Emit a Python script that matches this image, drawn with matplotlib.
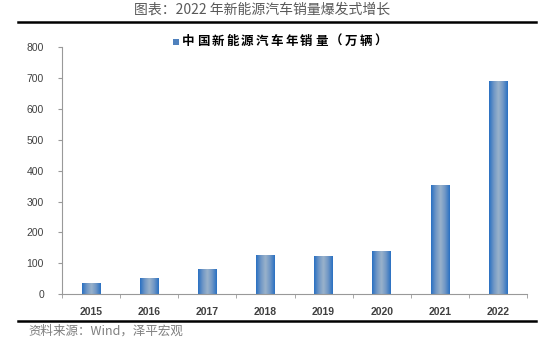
import numpy as np
import matplotlib
matplotlib.use("Agg")
from matplotlib import pyplot as plt
from matplotlib.colors import LinearSegmentedColormap
from matplotlib.patches import Rectangle
from matplotlib.lines import Line2D

plt.rcParams['font.family'] = ['Liberation Sans', 'Noto Sans CJK SC', 'DejaVu Sans']

years = ['2015', '2016', '2017', '2018', '2019', '2020', '2021', '2022']
sales = [33.1, 50.7, 77.7, 125.6, 120.6, 136.7, 352.1, 688.7]
yticks = [0, 100, 200, 300, 400, 500, 600, 700, 800]
leyenda = '中国新能源汽车年销量（万辆）'

# degradado azul de las barras (borde oscuro, centro claro)
cmap = LinearSegmentedColormap.from_list('barra', ['#2a70c2', '#6f97c6', '#9ab2cb', '#6f97c6', '#2a70c2'])

fig = plt.figure(figsize=(5.5, 3.39), dpi=100)
ax = fig.add_axes([62/550, 1-294.3/339, 465/550, 247.3/339])

ancho = 0.32
grad = np.linspace(0, 1, 64).reshape(1, -1)
for i, v in enumerate(sales):
    x0 = i - ancho/2
    ax.imshow(grad, cmap=cmap, aspect='auto', extent=[x0, x0+ancho, 0, v], zorder=2, interpolation='bilinear')

ax.set_xlim(-0.5, len(years)-0.5)
ax.set_ylim(0, 800)

ax.set_xticks(range(len(years)))
ax.set_xticklabels(years, fontsize=7.5, fontweight='bold', color='#404040')
ax.set_xticks(np.arange(-0.5, len(years), 1), minor=True)
ax.tick_params(axis='x', which='major', length=0, pad=9)
ax.tick_params(axis='x', which='minor', length=3, direction='out', color='#999999')

ax.set_yticks(yticks)
ax.set_yticklabels([str(t) for t in yticks], fontsize=7.5, color='#404040')
ax.tick_params(axis='y', length=3, direction='out', color='#999999', pad=10)

for s in ['top', 'right']:
    ax.spines[s].set_visible(False)
for s in ['left', 'bottom']:
    ax.spines[s].set_color('#999999')
    ax.spines[s].set_linewidth(0.8)

# leyenda (caracteres espaciados como en el original)
fig.patches.append(Rectangle((173/550, 1-45/339), 6/550, 6/339, transform=fig.transFigure,
                             facecolor='#4f81bd', edgecolor='none'))
for k, c in enumerate(leyenda):
    fig.text((188 + k*14.8)/550, 1-41/339, c, fontsize=9, fontweight='bold',
             family=['Noto Sans CJK SC', 'DejaVu Sans'], va='center', ha='center', color='#000000')

# titulo y fuente
fig.text(262/550, 1-10/339, '图表：2022 年新能源汽车销量爆发式增长', fontsize=10,
         family=['Noto Sans CJK SC', 'DejaVu Sans'], color='#595959', ha='center', va='center')
fig.lines.append(Line2D([18/550, 536/550], [1-21.5/339, 1-21.5/339], transform=fig.transFigure,
                        color='#000000', linewidth=1.8))
fig.lines.append(Line2D([18/550, 536/550], [1-320.5/339, 1-320.5/339], transform=fig.transFigure,
                        color='#000000', linewidth=1.8))
fig.text(28/550, 1-331/339, '资料来源：Wind，泽平宏观', fontsize=9,
         family=['Noto Sans CJK SC', 'DejaVu Sans'], color='#7f7f7f', ha='left', va='center')

fig.savefig('out.png', dpi=100)
